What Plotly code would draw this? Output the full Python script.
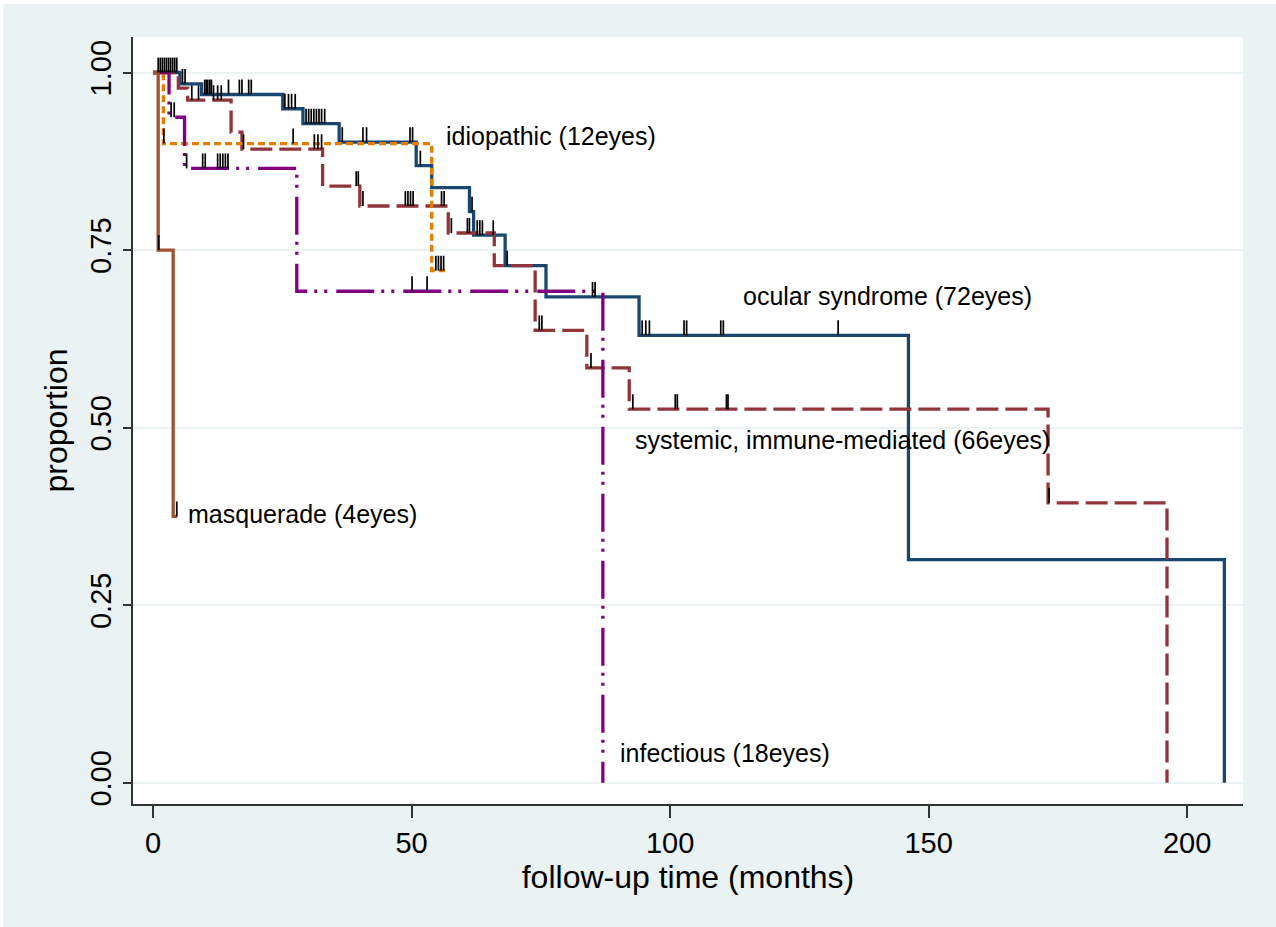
import plotly.graph_objects as go

# ---- Kaplan-Meier step functions (time in months, survival proportion) ----
ocular_t = [0, 5.2, 9.4, 25.1, 29.0, 36.0, 50.9, 53.9, 61.2, 62.0, 68.1, 76.0, 94.0, 146.1, 207.2]
ocular_s = [1.0, 0.984, 0.969, 0.949, 0.928, 0.902, 0.869, 0.838, 0.804, 0.771, 0.728, 0.684, 0.630, 0.314, 0.0]

systemic_t = [0, 4.9, 6.7, 15.1, 17.2, 32.8, 40.0, 57.1, 66.0, 73.9, 83.9, 92.1, 173.1, 196.1]
systemic_s = [1.0, 0.978, 0.961, 0.916, 0.892, 0.840, 0.812, 0.774, 0.728, 0.637, 0.584, 0.526, 0.394, 0.0]

idiopathic_t = [0, 2.0, 53.9]
idiopathic_s = [1.0, 0.900, 0.721]
idiopathic_end = 56.5

infectious_t = [0, 3.1, 6.1, 27.8, 87.0]
infectious_s = [1.0, 0.937, 0.865, 0.692, 0.0]

masquerade_t = [0, 1.0, 3.9]
masquerade_s = [1.0, 0.75, 0.375]
masquerade_end = 4.7

# ---- censoring times ----
ocular_cens = [1.0, 1.4, 1.8, 2.2, 2.6, 3.0, 3.4, 3.8, 4.2, 4.6, 5.7, 6.2,
               10.0, 10.3, 10.6, 11.0, 11.3, 14.6, 16.7, 17.2, 18.5, 19.0,
               25.5, 26.2, 26.8, 27.5,
               29.6, 30.1, 30.6, 31.1, 31.6, 32.1, 32.6, 33.2,
               36.6, 40.6, 41.3, 49.7, 50.2, 51.7, 61.7,
               62.7, 63.2, 63.7, 65.8, 68.5, 85.0, 85.5,
               94.6, 95.3, 96.0, 102.7, 103.2, 109.8, 110.3, 132.5]
systemic_cens = [7.5, 8.8, 11.7, 12.5, 13.2, 17.5, 31.2, 31.9, 32.6, 39.3, 39.7,
                 40.6, 48.8, 49.3, 49.8, 50.3, 55.8, 56.3, 57.7, 60.8, 61.2,
                 74.7, 75.2, 84.7, 92.8, 101.0, 101.4, 110.9, 111.2, 173.3]
idiopathic_cens = [2.1, 27.1, 54.7, 55.2, 55.7, 56.2]
infectious_cens = [3.5, 4.1, 6.5, 9.6, 10.1, 12.5, 13.0, 13.5, 14.0, 14.5, 50.1, 53.0]
masquerade_cens = [1.1, 4.6]

# ---- annotation labels ----
label_text = ["idiopathic (12eyes)", "ocular syndrome (72eyes)",
              "systemic, immune-mediated (66eyes)", "masquerade (4eyes)",
              "infectious (18eyes)"]
label_x = [56.2, 113.8, 92.8, 6.4, 89.9]
label_y = [0.911, 0.685, 0.482, 0.379, 0.042]

x_ticks = [0, 50, 100, 150, 200]
y_ticks = [0, 0.25, 0.5, 0.75, 1.0]
y_ticktext = ["0.00", "0.25", "0.50", "0.75", "1.00"]

FONT = "Liberation Sans, Arial, Helvetica, sans-serif"
BG = "#EAF2F3"


def level_at(t, times, surv):
    """Survival value of the step function at time t."""
    val = surv[0]
    for ti, si in zip(times, surv):
        if ti <= t:
            val = si
    return val


groups = [
    # times, surv, end, colour, dash, censored
    (ocular_t, ocular_s, None, "#1a476f", "solid", ocular_cens),
    (systemic_t, systemic_s, None, "#90353b", "22px,7px", systemic_cens),
    (idiopathic_t, idiopathic_s, idiopathic_end, "#e37e00", "7px,4px", idiopathic_cens),
    (infectious_t, infectious_s, None, "#800080", "38px,7px,3px,7px,3px,9px", infectious_cens),
    (masquerade_t, masquerade_s, masquerade_end, "#a0522d", "solid", masquerade_cens),
]

fig = go.Figure()

for times, surv, end, colour, dash, _ in groups:
    xs = list(times)
    ys = list(surv)
    if end is not None:
        xs.append(end)
        ys.append(surv[-1])
    fig.add_trace(go.Scatter(
        x=xs, y=ys, mode="lines", line_shape="hv",
        line=dict(color=colour, width=3.3, dash=dash),
        showlegend=False, hoverinfo="skip"))

# censoring marks: short vertical ticks rising from the curve
TICK_H = 0.021
cx, cy = [], []
for times, surv, end, colour, dash, cens in groups:
    for t in cens:
        s = level_at(t, times, surv)
        cx += [t, t, None]
        cy += [s, s + TICK_H, None]
fig.add_trace(go.Scatter(x=cx, y=cy, mode="lines",
                         line=dict(color="black", width=1.7),
                         showlegend=False, hoverinfo="skip"))

for txt, lx, ly in zip(label_text, label_x, label_y):
    fig.add_annotation(x=lx, y=ly, text=txt, showarrow=False,
                       xanchor="left", yanchor="middle",
                       font=dict(family=FONT, size=25, color="black"))

# outer background band with a thin white rim, and white plotting region
fig.add_shape(type="rect", xref="paper", yref="paper",
              x0=-0.1171, x1=1.05, y0=-0.2, y1=1.0430,
              fillcolor=BG, line_width=0, layer="below")
fig.add_shape(type="rect", xref="paper", yref="paper",
              x0=0, x1=1, y0=0, y1=1,
              fillcolor="white", line_width=0, layer="below")

fig.update_layout(
    width=1276, height=927,
    margin=dict(l=133, r=33, t=37, b=123),
    paper_bgcolor="white", plot_bgcolor="white",
    font=dict(family=FONT, color="black"),
    xaxis=dict(
        range=[-3.87, 210.8], tickvals=x_ticks,
        ticks="outside", ticklen=12, tickwidth=1.5, tickcolor="#333333",
        showline=True, linecolor="#333333", linewidth=2,
        showgrid=False, zeroline=False,
        tickfont=dict(family=FONT, size=29, color="black"),
        title=dict(text="follow-up time (months)", standoff=2,
                   font=dict(family=FONT, size=32, color="black")),
    ),
    yaxis=dict(
        range=[-0.03, 1.05], tickvals=y_ticks, ticktext=y_ticktext,
        tickangle=-90,
        ticks="outside", ticklen=8, tickwidth=1.5, tickcolor="#333333",
        showline=True, linecolor="#333333", linewidth=2,
        showgrid=True, gridcolor=BG, gridwidth=2, zeroline=False,
        tickfont=dict(family=FONT, size=29, color="black"),
        title=dict(text="proportion", standoff=8,
                   font=dict(family=FONT, size=32, color="black")),
    ),
)

fig.write_html("out.html")
